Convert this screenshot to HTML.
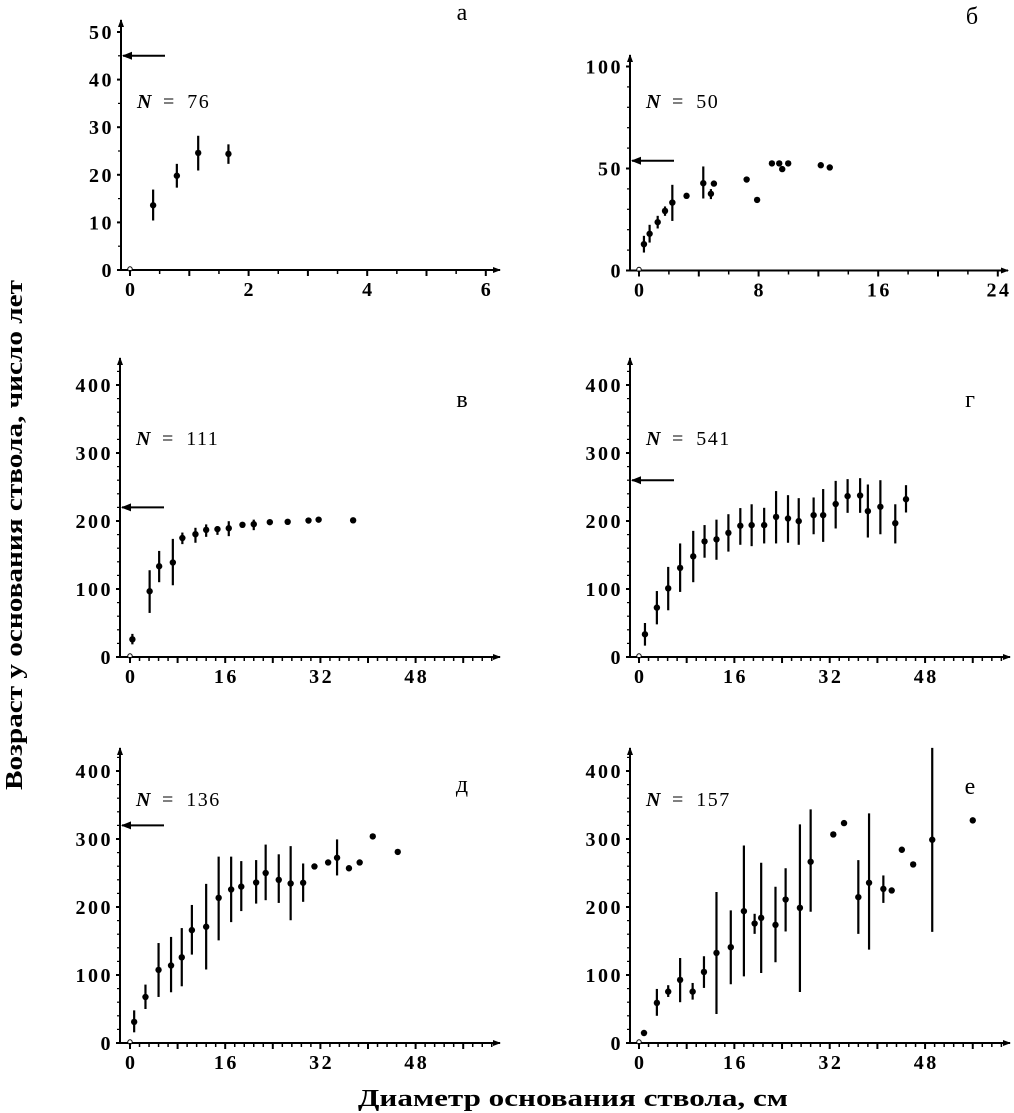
<!DOCTYPE html>
<html><head><meta charset="utf-8">
<style>
html,body{margin:0;padding:0;background:#fff;}
svg{display:block;}
text{font-family:"Liberation Serif","DejaVu Serif",serif;fill:#000;}
.tl{font-size:20px;font-weight:bold;letter-spacing:2.5px;}
.nl{font-size:20px;}
.pl{font-size:24px;}
.ax{font-size:24px;font-weight:bold;}
</style></head>
<body>
<svg id="chart" width="1014" height="1113" viewBox="0 0 1014 1113" xmlns="http://www.w3.org/2000/svg">
<text class="ax" transform="translate(22,535) rotate(-90)" text-anchor="middle" textLength="510" lengthAdjust="spacingAndGlyphs">Возраст у основания ствола, число лет</text>
<text class="ax" x="573" y="1106" text-anchor="middle" textLength="430" lengthAdjust="spacingAndGlyphs">Диаметр основания ствола, см</text>
</svg>
<script>
// Panel а
const aX=[0.39,0.79,1.15,1.66];
const aY=[13.6,19.8,24.6,24.4];
const aLo=[10.4,17.3,20.9,22.3];
const aHi=[16.9,22.3,28.2,26.4];
// Panel б
const bX=[0.33,0.71,1.25,1.74,2.23,3.18,4.3,4.81,5.01,7.2,7.9,8.89,9.38,9.58,9.98,12.16,12.76];
const bY=[12.9,18,23.7,29.2,33.3,36.6,42.8,37.6,42.6,44.6,34.6,52.5,52.5,49.7,52.5,51.6,50.5];
const bLo=[8.8,13.7,20.6,26.8,24.3,null,35.3,35,null,null,null,null,null,null,null,null,null];
const bHi=[17,22.4,26.8,31.4,42,null,51,39.9,null,null,null,null,null,null,null,null,null];
// Panel в
const vX=[0.4,3.3,4.9,7.2,8.8,11,12.8,14.7,16.6,18.9,20.8,23.5,26.5,30,31.7,37.5];
const vY=[26,96.7,133.5,139,175,180.6,187,188,189.4,194.4,195.3,198.3,198.8,200.7,202,201];
const vLo=[18.6,64.8,110,105.5,166,168,176.7,179.6,177.7,null,186.5,null,null,null,null,null];
const vHi=[34,127.6,156,173.7,183,190,195,192.4,199.7,null,202,null,null,null,null,null];
// Panel г
const gX=[1,3,4.9,6.9,9.1,11,13,15,17,18.9,21,23,25,26.8,29.3,30.9,33,35,37.1,38.4,40.5,43,44.8];
const gY=[33.4,72.6,101,131,148,170,173,182.6,193,194,194,206,203.7,199.8,208.6,208.6,225,236.6,237.5,214.5,220.9,196.8,232];
const gLo=[16.7,48,68.7,95.7,110,146,143,155,165,163,167,167,168,165,180.5,169.3,189,212,212,175.7,180.5,167,212.5];
const gHi=[50,97,132.5,167,185.5,194,202,210,219,224.6,219.4,244,238,233.6,234.6,247,259,261.6,263,253.7,260,224.6,252.7];
// Panel д
const dX=[0.7,2.6,4.8,6.9,8.7,10.4,12.8,14.9,17,18.7,21.2,22.8,25,27,29.1,31,33.3,34.8,36.8,38.6,40.8,45];
const dY=[31,67.7,107.5,114,126,166,171,213.5,225.8,230,236,250,240,234.6,235.6,259.6,265.5,272.4,257,265.5,303.8,281];
const dLo=[15.7,50,67.7,74.6,83.4,130,108,151,177.7,194,205,210,206,180.6,207.6,null,null,246.4,null,null,null,null];
const dHi=[48,85.9,147,156,169,203,234,274,274,267.5,269,291.8,277.5,289.6,264,null,null,299.4,null,null,null,null];
// Panel е
const eX=[0.84,3,4.9,6.9,9,10.9,13,15.4,17.6,19.4,20.5,22.9,24.6,27,28.8,32.6,34.4,36.8,38.6,41,42.4,44.1,46,49.2,56];
const eY=[14.7,59,75.6,92.8,75.6,104.5,132.5,140.9,193.9,175.7,184,173.7,211,198.8,266.5,306.7,323.4,214.5,235.6,226.7,224.3,284.2,262.6,298.9,327.4];
const eLo=[null,40,67.7,60,63.8,81,42.7,86.4,98,160.5,103,118.8,164,75,193,null,null,160.5,137.4,206,null,null,null,163.4,null];
const eHi=[null,79.5,85,125,88.3,127.6,222,195,290.5,190,265,229.7,257,321.5,343.6,null,null,269,337.7,246.4,null,null,null,434,null];

const yTicksA=[0,10,20,30,40,50], xTicksA=[0,2,4,6];
const yTicksB=[0,50,100], xTicksB=[0,8,16,24];
const yTicksL=[0,100,200,300,400], xTicksL=[0,16,32,48];

const NS='http://www.w3.org/2000/svg';
const svg=document.getElementById('chart');
function mk(tag,attrs,parent){const e=document.createElementNS(NS,tag);for(const k in attrs)e.setAttribute(k,attrs[k]);(parent||svg).appendChild(e);return e;}

function panel(p){
  const g=mk('g',{});
  
  
  const X=v=>p.ox+v*p.sx, Y=v=>p.oy-v*p.sy;
  const ya=mk('line',{x1:p.ax,y1:p.oy+1,x2:p.ax,y2:p.top,stroke:'#000','stroke-width':2},g);
  
  
  mk('path',{d:`M${p.ax-3},${p.top+7} L${p.ax},${p.top-1} L${p.ax+3},${p.top+7}Z`,fill:'#000'},g);
  const xa=mk('line',{x1:p.ax,y1:p.oy,x2:p.right,y2:p.oy,stroke:'#000','stroke-width':2},g);
  
  
  mk('path',{d:`M${p.right-7},${p.oy-3} L${p.right+1},${p.oy} L${p.right-7},${p.oy+3}Z`,fill:'#000'},g);
  mk('circle',{cx:p.ox,cy:p.oy-1,r:2.2,fill:'#fff',stroke:'#000','stroke-width':1},g);
  const xmaxV=(p.right-8-p.ox)/p.sx;
  for(let v=0;v<=xmaxV+1e-6;v+=p.xminor){
    const maj=Math.abs(v/p.xmajor-Math.round(v/p.xmajor))<1e-6;
    mk('line',{x1:X(v),y1:p.oy,x2:X(v),y2:p.oy+(maj?6:4),stroke:'#000','stroke-width':maj?2:1.5},g);
  }
  p.xt.forEach(v=>{
    const t=mk('text',{x:X(v)+1.2,y:p.oy+26,'text-anchor':'middle',class:'tl'},g);
    t.textContent=v;
    
    
  });
  const ymaxV=(p.oy-p.top-6)/p.sy;
  for(let v=0;v<=ymaxV+1e-6;v+=p.yminor){
    const maj=Math.abs(v/p.ymajor-Math.round(v/p.ymajor))<1e-6;
    mk('line',{x1:p.ax-(maj?4:3),y1:Y(v),x2:p.ax,y2:Y(v),stroke:'#000','stroke-width':maj?2:1.2},g);
  }
  p.yt.forEach(v=>{
    const t=mk('text',{x:p.ax-7,y:Y(v)+7,'text-anchor':'end',class:'tl'},g);
    t.textContent=v;
    
    
  });
  const L=mk('text',{x:p.lx,y:p.ly,'text-anchor':'middle',class:'pl'},g);
  L.textContent=p.letter;
  
  
  const N=mk('text',{x:p.ax+16,y:p.ny,class:'nl','xml:space':'preserve'},g);
  
  
  const ts=mk('tspan',{'font-style':'italic','font-weight':'bold'},N);ts.textContent='N';
  const ts2=mk('tspan',{'letter-spacing':'1.5px'},N);ts2.textContent='\u2002=\u2002'+p.n;
  if(p.arrow!=null){
    const a=mk('g',{},g);
    
    
    mk('line',{x1:p.ax+2,y1:Y(p.arrow),x2:p.ax+44,y2:Y(p.arrow),stroke:'#000','stroke-width':2},a);
    mk('path',{d:`M${p.ax+1},${Y(p.arrow)} L${p.ax+11},${Y(p.arrow)-4} L${p.ax+11},${Y(p.arrow)+4}Z`,fill:'#000'},a);
  }
  p.xs.forEach((xv,i)=>{
    if(p.lo[i]!=null){
      const eb=mk('line',{x1:X(xv),y1:Y(p.hi[i]),x2:X(xv),y2:Y(p.lo[i]),stroke:'#000','stroke-width':2.2},g);
      
      
    }
    const c=mk('circle',{cx:X(xv),cy:Y(p.ys[i]),r:3.2,fill:'#000'},g);
    
    
  });
}

panel({id:'a',letter:'а',lx:462,ly:20,ax:121,ox:130,oy:270,sx:59.3,sy:4.76,top:20,right:500,xt:xTicksA,xmajor:1,xminor:0.5,yt:yTicksA,ymajor:10,yminor:5,n:76,ny:108,arrow:45,xs:aX,ys:aY,lo:aLo,hi:aHi});
panel({id:'b',letter:'б',lx:972,ly:24,ax:630,ox:639,oy:270.5,sx:14.95,sy:2.04,top:55,right:1008,xt:xTicksB,xmajor:4,xminor:2,yt:yTicksB,ymajor:50,yminor:10,n:50,ny:108,arrow:53.8,xs:bX,ys:bY,lo:bLo,hi:bHi});
panel({id:'v',letter:'в',lx:462,ly:407,ax:120,ox:130,oy:657,sx:5.95,sy:0.68,top:358,right:500,xt:xTicksL,xmajor:8,xminor:1.6,yt:yTicksL,ymajor:100,yminor:20,n:111,ny:445,arrow:220,xs:vX,ys:vY,lo:vLo,hi:vHi});
panel({id:'g',letter:'г',lx:970,ly:407,ax:630,ox:639,oy:657,sx:5.96,sy:0.68,top:358,right:1010,xt:xTicksL,xmajor:8,xminor:1.6,yt:yTicksL,ymajor:100,yminor:20,n:541,ny:445,arrow:260,xs:gX,ys:gY,lo:gLo,hi:gHi});
panel({id:'d',letter:'д',lx:462,ly:792,ax:120,ox:130,oy:1043,sx:5.95,sy:0.68,top:748,right:500,xt:xTicksL,xmajor:8,xminor:1.6,yt:yTicksL,ymajor:100,yminor:20,n:136,ny:806,arrow:320,xs:dX,ys:dY,lo:dLo,hi:dHi});
panel({id:'e',letter:'е',lx:970,ly:794,ax:630,ox:639,oy:1043,sx:5.96,sy:0.68,top:748,right:1010,xt:xTicksL,xmajor:8,xminor:1.6,yt:yTicksL,ymajor:100,yminor:20,n:157,ny:806,arrow:null,xs:eX,ys:eY,lo:eLo,hi:eHi});
</script>
</body></html>
